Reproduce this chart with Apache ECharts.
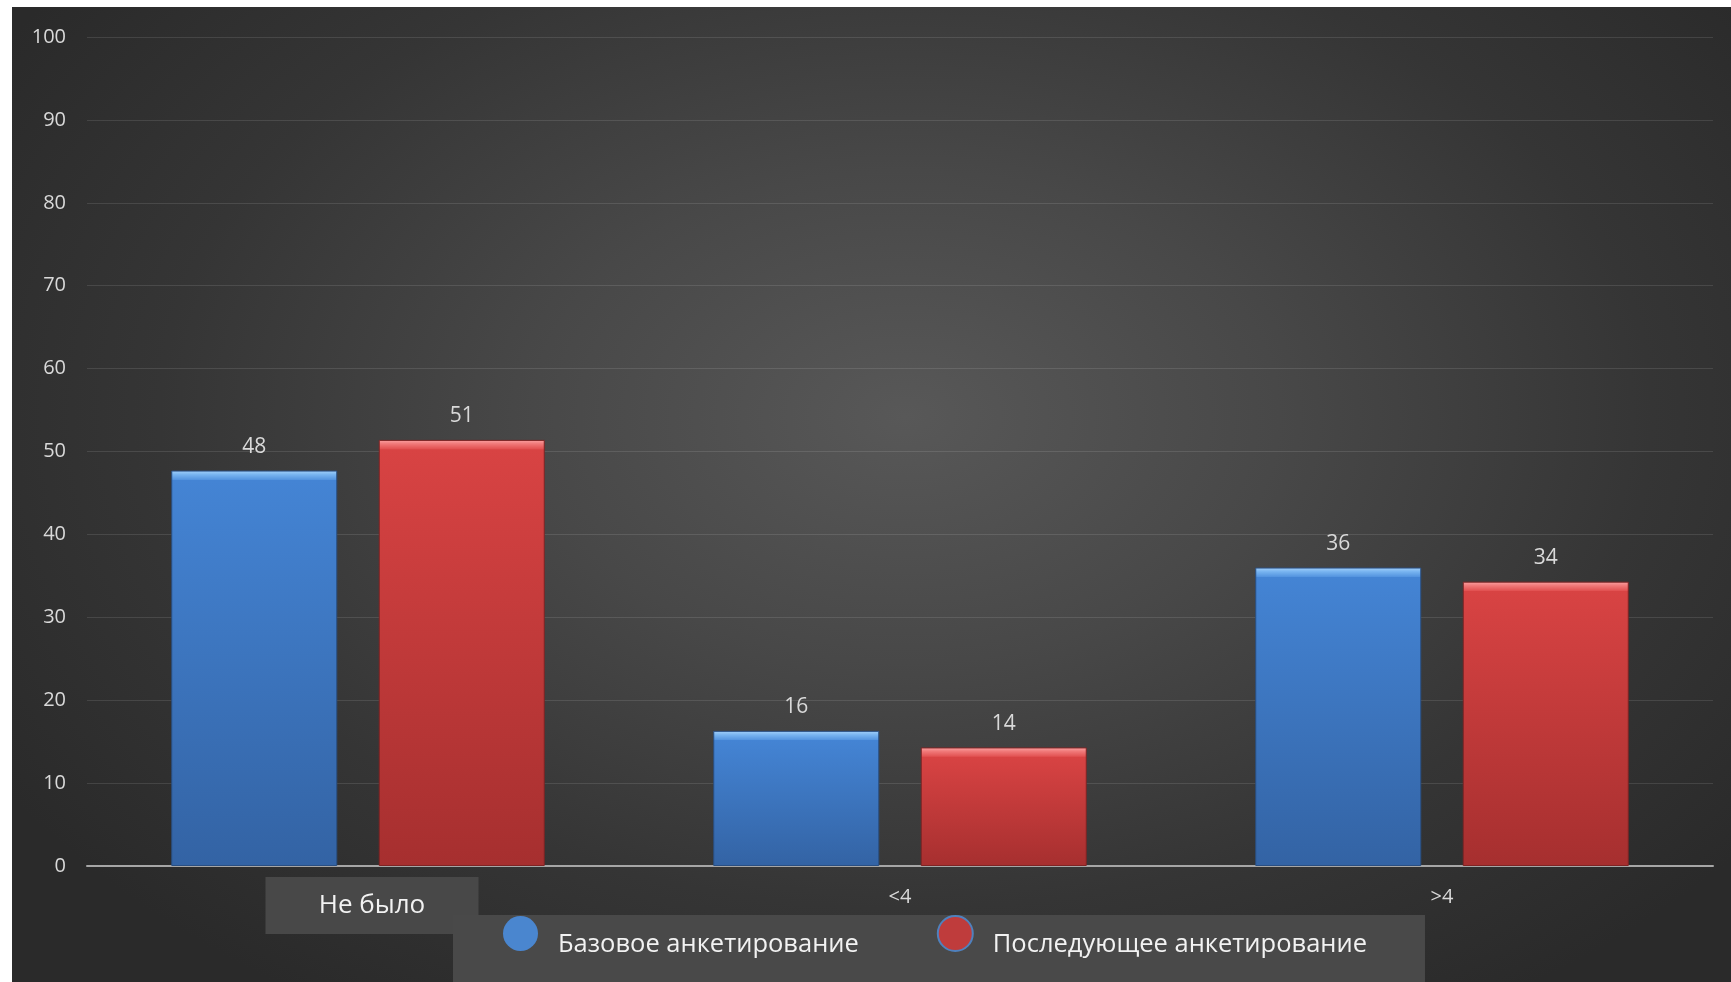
<!DOCTYPE html>
<html>
<head>
<meta charset="utf-8">
<script src="https://cdn.jsdelivr.net/npm/echarts@6/dist/echarts.min.js"></script>
<style>
  html, body { margin: 0; padding: 0; background: #ffffff; width: 1731px; height: 982px; overflow: hidden; }
  #chart {
    position: absolute; left: 12px; top: 7px; width: 1719px; height: 975px;
    background: radial-gradient(ellipse 62% 72% at 52% 42%, #585858 0%, #484848 35%, #353535 70%, #2a2a2a 100%);
  }
</style>
</head>
<body>
<div id="chart"></div>
<script>
// ---- data ----
const categories = ['Не было', '<4', '>4'];
const seriesNames = ['Базовое анкетирование', 'Последующее анкетирование'];
const baseValues = [47.7, 16.3, 36.0];
const followValues = [51.4, 14.3, 34.3];
const yTicks = { min: 0, max: 100, interval: 10 };

// ---- styling helpers ----
const FONT = '"Open Sans", "Noto Sans", sans-serif';
const PX_PER_UNIT = 8.29; // approximate bar pixels per unit, used only for bevel shading
const BEVEL_PX = 9;

function bevelGradient(v, c) {
  const s = Math.min(0.2, BEVEL_PX / (v * PX_PER_UNIT));
  return {
    type: 'linear', x: 0, y: 0, x2: 0, y2: 1,
    colorStops: [
      { offset: 0, color: c.hi },
      { offset: s * 0.45, color: c.mid },
      { offset: s, color: c.top },
      { offset: Math.min(1, s + 0.002), color: c.top2 },
      { offset: 1, color: c.bottom }
    ]
  };
}
const blueC = { hi: '#a6d2fa', mid: '#78b4f0', top: '#5595e0', top2: '#4484d4', bottom: '#3363a4' };
const redC  = { hi: '#fba4a4', mid: '#f07878', top: '#e25252', top2: '#d84343', bottom: '#a62f2f' };

function buildData(vals, c, border) {
  return vals.map(v => ({
    value: v,
    itemStyle: { color: bevelGradient(v, c), borderColor: border, borderWidth: 1 }
  }));
}

const chart = echarts.init(document.getElementById('chart'), null, { renderer: 'canvas' });

const labelStyle = {
  show: true, position: 'top', distance: 13,
  color: '#d9d9d9', fontSize: 21, fontFamily: FONT,
  formatter: p => String(Math.round(p.value))
};

const option = {
  backgroundColor: 'transparent',
  textStyle: { fontFamily: FONT },
  animation: false,
  grid: { left: 75, right: 18, top: 30, bottom: 116, containLabel: false },
  legend: {
    left: 441, top: 908,
    orient: 'horizontal',
    backgroundColor: '#494949',
    padding: [0, 58, 32, 50],
    itemWidth: 35, itemHeight: 35, itemGap: 78,
    icon: 'circle',
    formatter: name => '{t|' + name + '}',
    textStyle: {
      color: '#f2f2f2', fontSize: 25.5, fontFamily: FONT,
      rich: { t: { color: '#f2f2f2', fontSize: 25.5, fontFamily: FONT, padding: [22, 0, 0, 15] } }
    },
    data: [
      { name: seriesNames[0], itemStyle: { color: '#4a86cf', borderWidth: 0 } },
      { name: seriesNames[1], itemStyle: { color: '#bf3c3c', borderColor: '#4f81bd', borderWidth: 2 } }
    ]
  },
  xAxis: {
    type: 'category',
    data: categories,
    axisLine: { show: true, lineStyle: { color: '#a6a6a6', width: 2 } },
    axisTick: { show: false },
    splitLine: { show: false },
    axisLabel: {
      interval: 0,
      margin: 11,
      formatter: (v, i) => i === 0 ? '{sp|}{box|' + v + '}' : '{s|' + v + '}',
      rich: {
        sp: { width: 28, height: 57 },
        box: {
          width: 213, height: 57, lineHeight: 57, align: 'center',
          backgroundColor: '#484848', color: '#f2f2f2', fontSize: 26, fontFamily: FONT
        },
        s: { color: '#d9d9d9', fontSize: 20, lineHeight: 40, fontFamily: FONT }
      }
    }
  },
  yAxis: {
    type: 'value',
    min: yTicks.min, max: yTicks.max, interval: yTicks.interval,
    axisLine: { show: false },
    axisTick: { show: false },
    axisLabel: { color: '#d9d9d9', fontSize: 20, margin: 21, fontFamily: FONT },
    splitLine: { show: true, lineStyle: { color: 'rgba(255,255,255,0.11)', width: 1 } }
  },
  series: [
    {
      name: seriesNames[0], type: 'bar',
      barWidth: 166, barGap: '25%',
      data: buildData(baseValues, blueC, '#2a4f82'),
      label: labelStyle,
      itemStyle: { color: '#4a86cf' }
    },
    {
      name: seriesNames[1], type: 'bar',
      barWidth: 166, barGap: '25%',
      data: buildData(followValues, redC, '#7e2424'),
      label: labelStyle,
      itemStyle: { color: '#bf3c3c' }
    }
  ]
};
chart.setOption(option);
</script>
</body>
</html>
